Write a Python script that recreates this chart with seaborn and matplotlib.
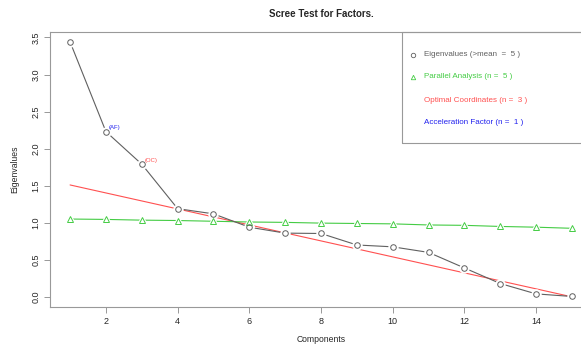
import matplotlib
matplotlib.use("Agg")
import matplotlib.pyplot as plt
import seaborn as sns
import numpy as np
from matplotlib.patches import Rectangle

components = list(range(1, 16))
eigenvalues = [3.44, 2.23, 1.79, 1.19, 1.12, 0.94, 0.86, 0.855, 0.70, 0.675, 0.60, 0.39, 0.18, 0.04, 0.005]
parallel = [1.05, 1.045, 1.035, 1.03, 1.02, 1.01, 1.005, 0.995, 0.99, 0.985, 0.97, 0.965, 0.95, 0.94, 0.925]
oc_x = [1, 15]
oc_y = [1.51, 0.0]
legend_labels = ["Eigenvalues (>mean  =  5 )", "Parallel Analysis (n =  5 )",
                 "Optimal Coordinates (n =  3 )", "Acceleration Factor (n =  1 )"]

sns.set_style("white")
plt.rcParams['font.family'] = ['Liberation Sans', 'DejaVu Sans']

W, H = 581, 347
fig = plt.figure(figsize=(W / 100, H / 100), dpi=100)
ax = fig.add_axes([50 / W, (H - 307) / H, (592 - 50) / W, (307 - 32) / H])

gray = "#606060"
green = "#44cc44"
red = "#ff5050"
blue = "#2222ee"

# Optimal coordinates line
sns.lineplot(x=oc_x, y=oc_y, ax=ax, color=red, lw=0.8, zorder=2)
# Parallel analysis
sns.lineplot(x=components, y=parallel, ax=ax, color=green, lw=0.8, zorder=3)
ax.plot(components, parallel, ls="none", marker="^", ms=7.5, mfc="white", mec="white", zorder=4)
ax.plot(components, parallel, ls="none", marker="^", ms=4.5, mfc="none", mec=green, mew=0.7, zorder=5)
# Eigenvalues
sns.lineplot(x=components, y=eigenvalues, ax=ax, color=gray, lw=0.8, zorder=3)
ax.plot(components, eigenvalues, ls="none", marker="o", ms=6.5, mfc="white", mec="white", zorder=4)
ax.plot(components, eigenvalues, ls="none", marker="o", ms=4, mfc="none", mec=gray, mew=0.7, zorder=5)

ax.text(components[1] + 0.08, eigenvalues[1] + 0.03, "(AF)", color=blue, fontsize=4.3, zorder=6)
ax.text(components[2] + 0.08, eigenvalues[2] + 0.03, "(OC)", color=red, fontsize=4.3, zorder=6)

ax.set_xlim(0.44, 15.56)
ax.set_ylim(-0.137, 3.574)
ax.set_xticks([2, 4, 6, 8, 10, 12, 14])
ax.set_yticks([0.0, 0.5, 1.0, 1.5, 2.0, 2.5, 3.0, 3.5])
ax.set_yticklabels(["0.0", "0.5", "1.0", "1.5", "2.0", "2.5", "3.0", "3.5"], rotation=90, va="center")
ax.tick_params(axis="both", direction="out", length=4, width=0.6, color="#888888", labelsize=6.5, pad=3,
               left=True, bottom=True)
for s in ax.spines.values():
    s.set_color("#999999")
    s.set_linewidth(0.8)

ax.set_xlabel("Components", fontsize=6.2, labelpad=7)
ax.set_ylabel("Eigenvalues", fontsize=6.2, labelpad=9)
fig.text(321 / W, 1 - 14 / H, "Scree Test for Factors.", ha="center", va="center",
         fontsize=7, fontweight="bold")

# Legend box
def px_to_axes(px, py):
    x0, x1 = 50, 592
    y0, y1 = 32, 307
    return (px - x0) / (x1 - x0), (y1 - py) / (y1 - y0)

bx, by = px_to_axes(402, 143)
bw = 1.0 - bx
bh = 1.0 - by
ax.add_patch(Rectangle((bx, by), bw, bh, transform=ax.transAxes, fill=False,
                       edgecolor="#999999", lw=0.8, zorder=7, clip_on=False))
rows = [55, 77, 100, 122]
colors = [gray, green, red, blue]
markers = ["o", "^", None, None]
for r, c, m, lab in zip(rows, colors, markers, legend_labels):
    mx, my = px_to_axes(413, r)
    tx, _ = px_to_axes(424, r)
    if m is not None:
        ax.plot([mx], [my], transform=ax.transAxes, marker=m, ms=3.2,
                mfc="none", mec=c, mew=0.6, ls="none", zorder=8)
    ax.text(tx, my, lab, transform=ax.transAxes, color=c, fontsize=5.8, va="center", ha="left", zorder=8)

fig.savefig("out.png", dpi=100)
